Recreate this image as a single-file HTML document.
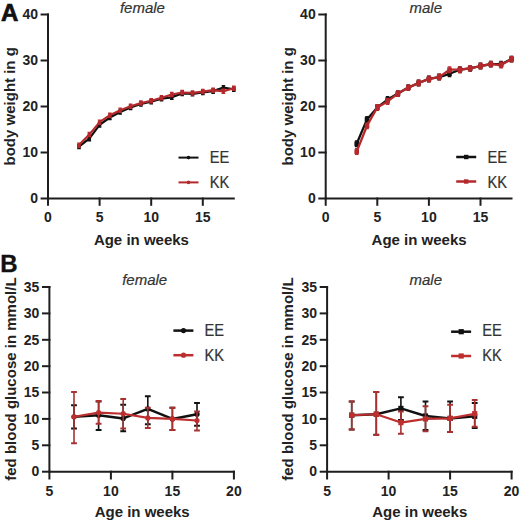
<!DOCTYPE html>
<html><head><meta charset="utf-8"><style>
html,body{margin:0;padding:0;background:#fff;}
body{width:520px;height:522px;overflow:hidden;}
svg{display:block;font-family:"Liberation Sans",sans-serif;}
.tb{font-size:14px;font-weight:bold;fill:#222;}
.lb{font-size:15px;font-weight:bold;fill:#222;}
.ti{font-size:15px;font-style:italic;fill:#333;stroke:#333;stroke-width:0.2px;}
.tr{font-size:15.6px;fill:#333;stroke:#333;stroke-width:0.2px;}
.pl{font-size:24px;font-weight:bold;fill:#111;stroke:#111;stroke-width:0.7px;}
</style></head><body>
<svg width="520" height="522" viewBox="0 0 520 522">
<text x="1" y="21" class="pl">A</text>
<text x="0.2" y="271.9" class="pl" style="stroke-width:0.35px">B</text>
<path d="M48.0 14.5V198.5H233.8" fill="none" stroke="#1e1e1e" stroke-width="2" stroke-linecap="square"/>
<path d="M40.6 198.5H49.0" stroke="#1e1e1e" stroke-width="2"/>
<text x="38.0" y="203.2" text-anchor="end" class="tb">0</text>
<path d="M40.6 152.5H49.0" stroke="#1e1e1e" stroke-width="2"/>
<text x="38.0" y="157.2" text-anchor="end" class="tb">10</text>
<path d="M40.6 106.5H49.0" stroke="#1e1e1e" stroke-width="2"/>
<text x="38.0" y="111.2" text-anchor="end" class="tb">20</text>
<path d="M40.6 60.5H49.0" stroke="#1e1e1e" stroke-width="2"/>
<text x="38.0" y="65.2" text-anchor="end" class="tb">30</text>
<path d="M40.6 14.5H49.0" stroke="#1e1e1e" stroke-width="2"/>
<text x="38.0" y="19.2" text-anchor="end" class="tb">40</text>
<path d="M48.0 197.5V205.8" stroke="#1e1e1e" stroke-width="2"/>
<text x="48.0" y="221.8" text-anchor="middle" class="tb">0</text>
<path d="M99.6 197.5V205.8" stroke="#1e1e1e" stroke-width="2"/>
<text x="99.6" y="221.8" text-anchor="middle" class="tb">5</text>
<path d="M151.2 197.5V205.8" stroke="#1e1e1e" stroke-width="2"/>
<text x="151.2" y="221.8" text-anchor="middle" class="tb">10</text>
<path d="M202.8 197.5V205.8" stroke="#1e1e1e" stroke-width="2"/>
<text x="202.8" y="221.8" text-anchor="middle" class="tb">15</text>
<text x="142.4" y="12.8" text-anchor="middle" class="ti">female</text>
<text x="141.4" y="244.6" text-anchor="middle" class="lb">Age in weeks</text>
<text transform="translate(14.8 106.3) rotate(-90)" text-anchor="middle" class="lb">body weight in g</text>
<polyline points="79.0,146.5 89.3,138.7 99.6,124.9 109.9,117.5 120.2,112.0 130.6,107.4 140.9,104.0 151.2,101.7 161.5,98.7 171.8,97.3 182.2,93.4 192.5,93.9 202.8,92.5 213.1,91.1 223.4,87.6 233.8,89.3" fill="none" stroke="#111" stroke-width="2.2" stroke-linejoin="round"/>
<path d="M79.0 144.4V148.6M77.2 144.4h3.6M77.2 148.6h3.6" stroke="#111" stroke-width="1.4"/>
<circle cx="79.0" cy="146.5" r="1.9" fill="#111"/>
<path d="M89.3 136.6V140.8M87.5 136.6h3.6M87.5 140.8h3.6" stroke="#111" stroke-width="1.4"/>
<circle cx="89.3" cy="138.7" r="1.9" fill="#111"/>
<path d="M99.6 122.8V127.0M97.8 122.8h3.6M97.8 127.0h3.6" stroke="#111" stroke-width="1.4"/>
<circle cx="99.6" cy="124.9" r="1.9" fill="#111"/>
<path d="M109.9 115.5V119.6M108.1 115.5h3.6M108.1 119.6h3.6" stroke="#111" stroke-width="1.4"/>
<circle cx="109.9" cy="117.5" r="1.9" fill="#111"/>
<path d="M120.2 110.0V114.1M118.4 110.0h3.6M118.4 114.1h3.6" stroke="#111" stroke-width="1.4"/>
<circle cx="120.2" cy="112.0" r="1.9" fill="#111"/>
<path d="M130.6 105.4V109.5M128.8 105.4h3.6M128.8 109.5h3.6" stroke="#111" stroke-width="1.4"/>
<circle cx="130.6" cy="107.4" r="1.9" fill="#111"/>
<path d="M140.9 101.9V106.0M139.1 101.9h3.6M139.1 106.0h3.6" stroke="#111" stroke-width="1.4"/>
<circle cx="140.9" cy="104.0" r="1.9" fill="#111"/>
<path d="M151.2 99.6V103.7M149.4 99.6h3.6M149.4 103.7h3.6" stroke="#111" stroke-width="1.4"/>
<circle cx="151.2" cy="101.7" r="1.9" fill="#111"/>
<path d="M161.5 96.6V100.8M159.7 96.6h3.6M159.7 100.8h3.6" stroke="#111" stroke-width="1.4"/>
<circle cx="161.5" cy="98.7" r="1.9" fill="#111"/>
<path d="M171.8 95.2V99.4M170.0 95.2h3.6M170.0 99.4h3.6" stroke="#111" stroke-width="1.4"/>
<circle cx="171.8" cy="97.3" r="1.9" fill="#111"/>
<path d="M182.2 91.3V95.5M180.4 91.3h3.6M180.4 95.5h3.6" stroke="#111" stroke-width="1.4"/>
<circle cx="182.2" cy="93.4" r="1.9" fill="#111"/>
<path d="M192.5 91.8V95.9M190.7 91.8h3.6M190.7 95.9h3.6" stroke="#111" stroke-width="1.4"/>
<circle cx="192.5" cy="93.9" r="1.9" fill="#111"/>
<path d="M202.8 90.4V94.5M201.0 90.4h3.6M201.0 94.5h3.6" stroke="#111" stroke-width="1.4"/>
<circle cx="202.8" cy="92.5" r="1.9" fill="#111"/>
<path d="M213.1 89.0V93.2M211.3 89.0h3.6M211.3 93.2h3.6" stroke="#111" stroke-width="1.4"/>
<circle cx="213.1" cy="91.1" r="1.9" fill="#111"/>
<path d="M223.4 85.6V89.7M221.6 85.6h3.6M221.6 89.7h3.6" stroke="#111" stroke-width="1.4"/>
<circle cx="223.4" cy="87.6" r="1.9" fill="#111"/>
<path d="M233.8 87.2V91.3M232.0 87.2h3.6M232.0 91.3h3.6" stroke="#111" stroke-width="1.4"/>
<circle cx="233.8" cy="89.3" r="1.9" fill="#111"/>
<polyline points="79.0,145.1 89.3,134.6 99.6,122.1 109.9,115.2 120.2,110.2 130.6,106.3 140.9,103.1 151.2,100.8 161.5,97.8 171.8,94.5 182.2,92.5 192.5,92.9 202.8,91.6 213.1,90.2 223.4,91.3 233.8,88.3" fill="none" stroke="#b5292c" stroke-width="2.2" stroke-linejoin="round"/>
<path d="M79.0 143.1V147.2M77.2 143.1h3.6M77.2 147.2h3.6" stroke="#b5292c" stroke-width="1.4"/>
<circle cx="79.0" cy="145.1" r="1.9" fill="#b5292c"/>
<path d="M89.3 132.5V136.6M87.5 132.5h3.6M87.5 136.6h3.6" stroke="#b5292c" stroke-width="1.4"/>
<circle cx="89.3" cy="134.6" r="1.9" fill="#b5292c"/>
<path d="M99.6 120.1V124.2M97.8 120.1h3.6M97.8 124.2h3.6" stroke="#b5292c" stroke-width="1.4"/>
<circle cx="99.6" cy="122.1" r="1.9" fill="#b5292c"/>
<path d="M109.9 113.2V117.3M108.1 113.2h3.6M108.1 117.3h3.6" stroke="#b5292c" stroke-width="1.4"/>
<circle cx="109.9" cy="115.2" r="1.9" fill="#b5292c"/>
<path d="M120.2 108.1V112.2M118.4 108.1h3.6M118.4 112.2h3.6" stroke="#b5292c" stroke-width="1.4"/>
<circle cx="120.2" cy="110.2" r="1.9" fill="#b5292c"/>
<path d="M130.6 104.2V108.3M128.8 104.2h3.6M128.8 108.3h3.6" stroke="#b5292c" stroke-width="1.4"/>
<circle cx="130.6" cy="106.3" r="1.9" fill="#b5292c"/>
<path d="M140.9 101.0V105.1M139.1 101.0h3.6M139.1 105.1h3.6" stroke="#b5292c" stroke-width="1.4"/>
<circle cx="140.9" cy="103.1" r="1.9" fill="#b5292c"/>
<path d="M151.2 98.7V102.8M149.4 98.7h3.6M149.4 102.8h3.6" stroke="#b5292c" stroke-width="1.4"/>
<circle cx="151.2" cy="100.8" r="1.9" fill="#b5292c"/>
<path d="M161.5 95.7V99.8M159.7 95.7h3.6M159.7 99.8h3.6" stroke="#b5292c" stroke-width="1.4"/>
<circle cx="161.5" cy="97.8" r="1.9" fill="#b5292c"/>
<path d="M171.8 92.5V96.6M170.0 92.5h3.6M170.0 96.6h3.6" stroke="#b5292c" stroke-width="1.4"/>
<circle cx="171.8" cy="94.5" r="1.9" fill="#b5292c"/>
<path d="M182.2 90.4V94.5M180.4 90.4h3.6M180.4 94.5h3.6" stroke="#b5292c" stroke-width="1.4"/>
<circle cx="182.2" cy="92.5" r="1.9" fill="#b5292c"/>
<path d="M192.5 90.9V95.0M190.7 90.9h3.6M190.7 95.0h3.6" stroke="#b5292c" stroke-width="1.4"/>
<circle cx="192.5" cy="92.9" r="1.9" fill="#b5292c"/>
<path d="M202.8 89.5V93.6M201.0 89.5h3.6M201.0 93.6h3.6" stroke="#b5292c" stroke-width="1.4"/>
<circle cx="202.8" cy="91.6" r="1.9" fill="#b5292c"/>
<path d="M213.1 88.1V92.2M211.3 88.1h3.6M211.3 92.2h3.6" stroke="#b5292c" stroke-width="1.4"/>
<circle cx="213.1" cy="90.2" r="1.9" fill="#b5292c"/>
<path d="M223.4 89.3V93.4M221.6 89.3h3.6M221.6 93.4h3.6" stroke="#b5292c" stroke-width="1.4"/>
<circle cx="223.4" cy="91.3" r="1.9" fill="#b5292c"/>
<path d="M233.8 86.3V90.4M232.0 86.3h3.6M232.0 90.4h3.6" stroke="#b5292c" stroke-width="1.4"/>
<circle cx="233.8" cy="88.3" r="1.9" fill="#b5292c"/>
<path d="M178.5 157.6H198.5" stroke="#111" stroke-width="2.0"/>
<circle cx="188.5" cy="157.6" r="1.8" fill="#111"/>
<text transform="translate(209.8 163.2) scale(0.94 1)" class="tr">EE</text>
<path d="M178.5 182.4H198.5" stroke="#b5292c" stroke-width="2.0"/>
<circle cx="188.5" cy="182.4" r="1.8" fill="#b5292c"/>
<text transform="translate(209.8 187.9) scale(0.94 1)" class="tr">KK</text>
<path d="M325.7 14.5V198.5H511.5" fill="none" stroke="#1e1e1e" stroke-width="2" stroke-linecap="square"/>
<path d="M318.3 198.5H326.7" stroke="#1e1e1e" stroke-width="2"/>
<text x="315.7" y="203.2" text-anchor="end" class="tb">0</text>
<path d="M318.3 152.5H326.7" stroke="#1e1e1e" stroke-width="2"/>
<text x="315.7" y="157.2" text-anchor="end" class="tb">10</text>
<path d="M318.3 106.5H326.7" stroke="#1e1e1e" stroke-width="2"/>
<text x="315.7" y="111.2" text-anchor="end" class="tb">20</text>
<path d="M318.3 60.5H326.7" stroke="#1e1e1e" stroke-width="2"/>
<text x="315.7" y="65.2" text-anchor="end" class="tb">30</text>
<path d="M318.3 14.5H326.7" stroke="#1e1e1e" stroke-width="2"/>
<text x="315.7" y="19.2" text-anchor="end" class="tb">40</text>
<path d="M325.7 197.5V205.8" stroke="#1e1e1e" stroke-width="2"/>
<text x="325.7" y="221.8" text-anchor="middle" class="tb">0</text>
<path d="M377.3 197.5V205.8" stroke="#1e1e1e" stroke-width="2"/>
<text x="377.3" y="221.8" text-anchor="middle" class="tb">5</text>
<path d="M428.9 197.5V205.8" stroke="#1e1e1e" stroke-width="2"/>
<text x="428.9" y="221.8" text-anchor="middle" class="tb">10</text>
<path d="M480.5 197.5V205.8" stroke="#1e1e1e" stroke-width="2"/>
<text x="480.5" y="221.8" text-anchor="middle" class="tb">15</text>
<text x="425.8" y="12.8" text-anchor="middle" class="ti">male</text>
<text x="419.1" y="244.6" text-anchor="middle" class="lb">Age in weeks</text>
<text transform="translate(292.5 106.3) rotate(-90)" text-anchor="middle" class="lb">body weight in g</text>
<polyline points="356.7,143.8 367.0,119.4 377.3,107.4 387.6,99.6 397.9,93.6 408.3,87.6 418.6,83.0 428.9,78.9 439.2,77.1 449.5,73.8 459.9,69.7 470.2,68.3 480.5,66.0 490.8,64.2 501.1,64.2 511.5,59.1" fill="none" stroke="#111" stroke-width="2.3" stroke-linejoin="round"/>
<path d="M356.7 141.0V146.5M354.9 141.0h3.6M354.9 146.5h3.6" stroke="#111" stroke-width="1.4"/>
<rect x="354.4" y="141.5" width="4.6" height="4.6" fill="#111"/>
<path d="M367.0 116.6V122.1M365.2 116.6h3.6M365.2 122.1h3.6" stroke="#111" stroke-width="1.4"/>
<rect x="364.7" y="117.1" width="4.6" height="4.6" fill="#111"/>
<path d="M377.3 104.7V110.2M375.5 104.7h3.6M375.5 110.2h3.6" stroke="#111" stroke-width="1.4"/>
<rect x="375.0" y="105.1" width="4.6" height="4.6" fill="#111"/>
<path d="M387.6 96.8V102.4M385.8 96.8h3.6M385.8 102.4h3.6" stroke="#111" stroke-width="1.4"/>
<rect x="385.3" y="97.3" width="4.6" height="4.6" fill="#111"/>
<path d="M397.9 90.9V96.4M396.1 90.9h3.6M396.1 96.4h3.6" stroke="#111" stroke-width="1.4"/>
<rect x="395.6" y="91.3" width="4.6" height="4.6" fill="#111"/>
<path d="M408.3 84.9V90.4M406.5 84.9h3.6M406.5 90.4h3.6" stroke="#111" stroke-width="1.4"/>
<rect x="406.0" y="85.3" width="4.6" height="4.6" fill="#111"/>
<path d="M418.6 80.3V85.8M416.8 80.3h3.6M416.8 85.8h3.6" stroke="#111" stroke-width="1.4"/>
<rect x="416.3" y="80.7" width="4.6" height="4.6" fill="#111"/>
<path d="M428.9 76.1V81.7M427.1 76.1h3.6M427.1 81.7h3.6" stroke="#111" stroke-width="1.4"/>
<rect x="426.6" y="76.6" width="4.6" height="4.6" fill="#111"/>
<path d="M439.2 74.3V79.8M437.4 74.3h3.6M437.4 79.8h3.6" stroke="#111" stroke-width="1.4"/>
<rect x="436.9" y="74.8" width="4.6" height="4.6" fill="#111"/>
<path d="M449.5 71.1V76.6M447.7 71.1h3.6M447.7 76.6h3.6" stroke="#111" stroke-width="1.4"/>
<rect x="447.2" y="71.5" width="4.6" height="4.6" fill="#111"/>
<path d="M459.9 66.9V72.5M458.1 66.9h3.6M458.1 72.5h3.6" stroke="#111" stroke-width="1.4"/>
<rect x="457.6" y="67.4" width="4.6" height="4.6" fill="#111"/>
<path d="M470.2 65.6V71.1M468.4 65.6h3.6M468.4 71.1h3.6" stroke="#111" stroke-width="1.4"/>
<rect x="467.9" y="66.0" width="4.6" height="4.6" fill="#111"/>
<path d="M480.5 63.3V68.8M478.7 63.3h3.6M478.7 68.8h3.6" stroke="#111" stroke-width="1.4"/>
<rect x="478.2" y="63.7" width="4.6" height="4.6" fill="#111"/>
<path d="M490.8 61.4V66.9M489.0 61.4h3.6M489.0 66.9h3.6" stroke="#111" stroke-width="1.4"/>
<rect x="488.5" y="61.9" width="4.6" height="4.6" fill="#111"/>
<path d="M501.1 61.4V66.9M499.3 61.4h3.6M499.3 66.9h3.6" stroke="#111" stroke-width="1.4"/>
<rect x="498.8" y="61.9" width="4.6" height="4.6" fill="#111"/>
<path d="M511.5 56.4V61.9M509.7 56.4h3.6M509.7 61.9h3.6" stroke="#111" stroke-width="1.4"/>
<rect x="509.2" y="56.8" width="4.6" height="4.6" fill="#111"/>
<polyline points="356.7,151.6 367.0,125.8 377.3,107.4 387.6,101.4 397.9,93.6 408.3,87.6 418.6,83.0 428.9,78.9 439.2,77.1 449.5,69.7 459.9,69.7 470.2,68.3 480.5,66.0 490.8,64.2 501.1,65.1 511.5,59.1" fill="none" stroke="#b5292c" stroke-width="2.3" stroke-linejoin="round"/>
<path d="M356.7 148.8V154.3M354.9 148.8h3.6M354.9 154.3h3.6" stroke="#b5292c" stroke-width="1.4"/>
<rect x="354.4" y="149.3" width="4.6" height="4.6" fill="#b5292c"/>
<path d="M367.0 123.1V128.6M365.2 123.1h3.6M365.2 128.6h3.6" stroke="#b5292c" stroke-width="1.4"/>
<rect x="364.7" y="123.5" width="4.6" height="4.6" fill="#b5292c"/>
<path d="M377.3 104.7V110.2M375.5 104.7h3.6M375.5 110.2h3.6" stroke="#b5292c" stroke-width="1.4"/>
<rect x="375.0" y="105.1" width="4.6" height="4.6" fill="#b5292c"/>
<path d="M387.6 98.7V104.2M385.8 98.7h3.6M385.8 104.2h3.6" stroke="#b5292c" stroke-width="1.4"/>
<rect x="385.3" y="99.1" width="4.6" height="4.6" fill="#b5292c"/>
<path d="M397.9 90.9V96.4M396.1 90.9h3.6M396.1 96.4h3.6" stroke="#b5292c" stroke-width="1.4"/>
<rect x="395.6" y="91.3" width="4.6" height="4.6" fill="#b5292c"/>
<path d="M408.3 84.9V90.4M406.5 84.9h3.6M406.5 90.4h3.6" stroke="#b5292c" stroke-width="1.4"/>
<rect x="406.0" y="85.3" width="4.6" height="4.6" fill="#b5292c"/>
<path d="M418.6 80.3V85.8M416.8 80.3h3.6M416.8 85.8h3.6" stroke="#b5292c" stroke-width="1.4"/>
<rect x="416.3" y="80.7" width="4.6" height="4.6" fill="#b5292c"/>
<path d="M428.9 76.1V81.7M427.1 76.1h3.6M427.1 81.7h3.6" stroke="#b5292c" stroke-width="1.4"/>
<rect x="426.6" y="76.6" width="4.6" height="4.6" fill="#b5292c"/>
<path d="M439.2 74.3V79.8M437.4 74.3h3.6M437.4 79.8h3.6" stroke="#b5292c" stroke-width="1.4"/>
<rect x="436.9" y="74.8" width="4.6" height="4.6" fill="#b5292c"/>
<path d="M449.5 66.9V72.5M447.7 66.9h3.6M447.7 72.5h3.6" stroke="#b5292c" stroke-width="1.4"/>
<rect x="447.2" y="67.4" width="4.6" height="4.6" fill="#b5292c"/>
<path d="M459.9 66.9V72.5M458.1 66.9h3.6M458.1 72.5h3.6" stroke="#b5292c" stroke-width="1.4"/>
<rect x="457.6" y="67.4" width="4.6" height="4.6" fill="#b5292c"/>
<path d="M470.2 65.6V71.1M468.4 65.6h3.6M468.4 71.1h3.6" stroke="#b5292c" stroke-width="1.4"/>
<rect x="467.9" y="66.0" width="4.6" height="4.6" fill="#b5292c"/>
<path d="M480.5 63.3V68.8M478.7 63.3h3.6M478.7 68.8h3.6" stroke="#b5292c" stroke-width="1.4"/>
<rect x="478.2" y="63.7" width="4.6" height="4.6" fill="#b5292c"/>
<path d="M490.8 61.4V66.9M489.0 61.4h3.6M489.0 66.9h3.6" stroke="#b5292c" stroke-width="1.4"/>
<rect x="488.5" y="61.9" width="4.6" height="4.6" fill="#b5292c"/>
<path d="M501.1 62.3V67.9M499.3 62.3h3.6M499.3 67.9h3.6" stroke="#b5292c" stroke-width="1.4"/>
<rect x="498.8" y="62.8" width="4.6" height="4.6" fill="#b5292c"/>
<path d="M511.5 56.4V61.9M509.7 56.4h3.6M509.7 61.9h3.6" stroke="#b5292c" stroke-width="1.4"/>
<rect x="509.2" y="56.8" width="4.6" height="4.6" fill="#b5292c"/>
<path d="M456.2 157.0H476.2" stroke="#111" stroke-width="2.5"/>
<rect x="464.0" y="154.8" width="4.4" height="4.4" fill="#111"/>
<text transform="translate(487.5 163.2) scale(0.94 1)" class="tr">EE</text>
<path d="M456.2 181.5H476.2" stroke="#b5292c" stroke-width="2.5"/>
<rect x="464.0" y="179.3" width="4.4" height="4.4" fill="#b5292c"/>
<text transform="translate(487.5 187.9) scale(0.94 1)" class="tr">KK</text>
<path d="M49.4 287.0V471.7H233.9" fill="none" stroke="#1e1e1e" stroke-width="2" stroke-linecap="square"/>
<path d="M42.0 471.7H50.4" stroke="#1e1e1e" stroke-width="2"/>
<text x="39.4" y="476.4" text-anchor="end" class="tb">0</text>
<path d="M42.0 445.3H50.4" stroke="#1e1e1e" stroke-width="2"/>
<text x="39.4" y="450.0" text-anchor="end" class="tb">5</text>
<path d="M42.0 418.9H50.4" stroke="#1e1e1e" stroke-width="2"/>
<text x="39.4" y="423.6" text-anchor="end" class="tb">10</text>
<path d="M42.0 392.5H50.4" stroke="#1e1e1e" stroke-width="2"/>
<text x="39.4" y="397.2" text-anchor="end" class="tb">15</text>
<path d="M42.0 366.2H50.4" stroke="#1e1e1e" stroke-width="2"/>
<text x="39.4" y="370.9" text-anchor="end" class="tb">20</text>
<path d="M42.0 339.8H50.4" stroke="#1e1e1e" stroke-width="2"/>
<text x="39.4" y="344.5" text-anchor="end" class="tb">25</text>
<path d="M42.0 313.4H50.4" stroke="#1e1e1e" stroke-width="2"/>
<text x="39.4" y="318.1" text-anchor="end" class="tb">30</text>
<path d="M42.0 287.0H50.4" stroke="#1e1e1e" stroke-width="2"/>
<text x="39.4" y="291.7" text-anchor="end" class="tb">35</text>
<path d="M49.4 470.7V479.5" stroke="#1e1e1e" stroke-width="2"/>
<text x="49.4" y="495.5" text-anchor="middle" class="tb">5</text>
<path d="M110.9 470.7V479.5" stroke="#1e1e1e" stroke-width="2"/>
<text x="110.9" y="495.5" text-anchor="middle" class="tb">10</text>
<path d="M172.4 470.7V479.5" stroke="#1e1e1e" stroke-width="2"/>
<text x="172.4" y="495.5" text-anchor="middle" class="tb">15</text>
<path d="M233.9 470.7V479.5" stroke="#1e1e1e" stroke-width="2"/>
<text x="233.9" y="495.5" text-anchor="middle" class="tb">20</text>
<text x="144.7" y="285.2" text-anchor="middle" class="ti">female</text>
<text x="142.2" y="517.2" text-anchor="middle" class="lb">Age in weeks</text>
<text transform="translate(15.6 379.1) rotate(-90)" text-anchor="middle" class="lb">fed blood glucose in mmol/L</text>
<polyline points="74.0,416.8 98.6,415.2 123.2,418.4 147.8,408.9 172.4,418.9 197.0,414.2" fill="none" stroke="#111" stroke-width="2.5" stroke-linejoin="round"/>
<path d="M74.0 405.2V428.4" stroke="#111" stroke-width="1.6"/><path d="M71.1 405.2h5.8M71.1 428.4h5.8" stroke="#111" stroke-width="2"/>
<circle cx="74.0" cy="416.8" r="2.6" fill="#111"/>
<path d="M98.6 401.5V430.0" stroke="#111" stroke-width="1.6"/><path d="M95.7 401.5h5.8M95.7 430.0h5.8" stroke="#111" stroke-width="2"/>
<circle cx="98.6" cy="415.2" r="2.6" fill="#111"/>
<path d="M123.2 404.7V431.3" stroke="#111" stroke-width="1.6"/><path d="M120.3 404.7h5.8M120.3 431.3h5.8" stroke="#111" stroke-width="2"/>
<circle cx="123.2" cy="418.4" r="2.6" fill="#111"/>
<path d="M147.8 396.2V424.2" stroke="#111" stroke-width="1.6"/><path d="M144.9 396.2h5.8M144.9 424.2h5.8" stroke="#111" stroke-width="2"/>
<circle cx="147.8" cy="408.9" r="2.6" fill="#111"/>
<path d="M172.4 407.8V430.0" stroke="#111" stroke-width="1.6"/><path d="M169.5 407.8h5.8M169.5 430.0h5.8" stroke="#111" stroke-width="2"/>
<circle cx="172.4" cy="418.9" r="2.6" fill="#111"/>
<path d="M197.0 403.1V425.8" stroke="#111" stroke-width="1.6"/><path d="M194.1 403.1h5.8M194.1 425.8h5.8" stroke="#111" stroke-width="2"/>
<circle cx="197.0" cy="414.2" r="2.6" fill="#111"/>
<polyline points="74.0,416.8 98.6,412.6 123.2,413.7 147.8,417.9 172.4,418.9 197.0,420.5" fill="none" stroke="#bd2e2f" stroke-width="2.1" stroke-linejoin="round"/>
<path d="M74.0 392.0V443.2" stroke="#a83232" stroke-width="1.6"/><path d="M71.1 392.0h5.8M71.1 443.2h5.8" stroke="#a83232" stroke-width="2"/>
<circle cx="74.0" cy="416.8" r="2.6" fill="#bd2e2f"/>
<path d="M98.6 401.0V423.7" stroke="#a83232" stroke-width="1.6"/><path d="M95.7 401.0h5.8M95.7 423.7h5.8" stroke="#a83232" stroke-width="2"/>
<circle cx="98.6" cy="412.6" r="2.6" fill="#bd2e2f"/>
<path d="M123.2 398.9V428.4" stroke="#a83232" stroke-width="1.6"/><path d="M120.3 398.9h5.8M120.3 428.4h5.8" stroke="#a83232" stroke-width="2"/>
<circle cx="123.2" cy="413.7" r="2.6" fill="#bd2e2f"/>
<path d="M147.8 407.8V427.9" stroke="#a83232" stroke-width="1.6"/><path d="M144.9 407.8h5.8M144.9 427.9h5.8" stroke="#a83232" stroke-width="2"/>
<circle cx="147.8" cy="417.9" r="2.6" fill="#bd2e2f"/>
<path d="M172.4 407.8V430.0" stroke="#a83232" stroke-width="1.6"/><path d="M169.5 407.8h5.8M169.5 430.0h5.8" stroke="#a83232" stroke-width="2"/>
<circle cx="172.4" cy="418.9" r="2.6" fill="#bd2e2f"/>
<path d="M197.0 411.5V430.5" stroke="#a83232" stroke-width="1.6"/><path d="M194.1 411.5h5.8M194.1 430.5h5.8" stroke="#a83232" stroke-width="2"/>
<circle cx="197.0" cy="420.5" r="2.6" fill="#bd2e2f"/>
<path d="M173.4 330.6H193.4" stroke="#111" stroke-width="2.5"/>
<circle cx="183.5" cy="330.6" r="2.6" fill="#111"/>
<text transform="translate(204.6 335.9) scale(0.94 1)" class="tr">EE</text>
<path d="M173.4 355.2H193.4" stroke="#bd2e2f" stroke-width="2.5"/>
<circle cx="183.5" cy="355.2" r="2.6" fill="#bd2e2f"/>
<text transform="translate(204.6 360.5) scale(0.94 1)" class="tr">KK</text>
<path d="M327.1 287.0V471.7H511.6" fill="none" stroke="#1e1e1e" stroke-width="2" stroke-linecap="square"/>
<path d="M319.7 471.7H328.1" stroke="#1e1e1e" stroke-width="2"/>
<text x="317.1" y="476.4" text-anchor="end" class="tb">0</text>
<path d="M319.7 445.3H328.1" stroke="#1e1e1e" stroke-width="2"/>
<text x="317.1" y="450.0" text-anchor="end" class="tb">5</text>
<path d="M319.7 418.9H328.1" stroke="#1e1e1e" stroke-width="2"/>
<text x="317.1" y="423.6" text-anchor="end" class="tb">10</text>
<path d="M319.7 392.5H328.1" stroke="#1e1e1e" stroke-width="2"/>
<text x="317.1" y="397.2" text-anchor="end" class="tb">15</text>
<path d="M319.7 366.2H328.1" stroke="#1e1e1e" stroke-width="2"/>
<text x="317.1" y="370.9" text-anchor="end" class="tb">20</text>
<path d="M319.7 339.8H328.1" stroke="#1e1e1e" stroke-width="2"/>
<text x="317.1" y="344.5" text-anchor="end" class="tb">25</text>
<path d="M319.7 313.4H328.1" stroke="#1e1e1e" stroke-width="2"/>
<text x="317.1" y="318.1" text-anchor="end" class="tb">30</text>
<path d="M319.7 287.0H328.1" stroke="#1e1e1e" stroke-width="2"/>
<text x="317.1" y="291.7" text-anchor="end" class="tb">35</text>
<path d="M327.1 470.7V479.5" stroke="#1e1e1e" stroke-width="2"/>
<text x="327.1" y="495.5" text-anchor="middle" class="tb">5</text>
<path d="M388.6 470.7V479.5" stroke="#1e1e1e" stroke-width="2"/>
<text x="388.6" y="495.5" text-anchor="middle" class="tb">10</text>
<path d="M450.1 470.7V479.5" stroke="#1e1e1e" stroke-width="2"/>
<text x="450.1" y="495.5" text-anchor="middle" class="tb">15</text>
<path d="M511.6 470.7V479.5" stroke="#1e1e1e" stroke-width="2"/>
<text x="511.6" y="495.5" text-anchor="middle" class="tb">20</text>
<text x="425.8" y="285.2" text-anchor="middle" class="ti">male</text>
<text x="419.8" y="517.2" text-anchor="middle" class="lb">Age in weeks</text>
<text transform="translate(293.3 379.1) rotate(-90)" text-anchor="middle" class="lb">fed blood glucose in mmol/L</text>
<polyline points="351.7,415.2 376.3,414.2 400.9,408.4 425.5,416.0 450.1,418.4 474.7,416.3" fill="none" stroke="#111" stroke-width="2.5" stroke-linejoin="round"/>
<path d="M351.7 401.5V429.5" stroke="#111" stroke-width="1.6"/><path d="M348.8 401.5h5.8M348.8 429.5h5.8" stroke="#111" stroke-width="2"/>
<rect x="349.1" y="412.6" width="5.2" height="5.2" fill="#111"/>
<path d="M376.3 392.0V434.8" stroke="#111" stroke-width="1.6"/><path d="M373.4 392.0h5.8M373.4 434.8h5.8" stroke="#111" stroke-width="2"/>
<rect x="373.7" y="411.6" width="5.2" height="5.2" fill="#111"/>
<path d="M400.9 397.3V420.0" stroke="#111" stroke-width="1.6"/><path d="M398.0 397.3h5.8M398.0 420.0h5.8" stroke="#111" stroke-width="2"/>
<rect x="398.3" y="405.8" width="5.2" height="5.2" fill="#111"/>
<path d="M425.5 401.5V430.0" stroke="#111" stroke-width="1.6"/><path d="M422.6 401.5h5.8M422.6 430.0h5.8" stroke="#111" stroke-width="2"/>
<rect x="422.9" y="413.4" width="5.2" height="5.2" fill="#111"/>
<path d="M450.1 401.5V432.1" stroke="#111" stroke-width="1.6"/><path d="M447.2 401.5h5.8M447.2 432.1h5.8" stroke="#111" stroke-width="2"/>
<rect x="447.5" y="415.8" width="5.2" height="5.2" fill="#111"/>
<path d="M474.7 403.1V427.9" stroke="#111" stroke-width="1.6"/><path d="M471.8 403.1h5.8M471.8 427.9h5.8" stroke="#111" stroke-width="2"/>
<rect x="472.1" y="413.7" width="5.2" height="5.2" fill="#111"/>
<polyline points="351.7,415.2 376.3,414.2 400.9,422.6 425.5,418.9 450.1,418.4 474.7,413.7" fill="none" stroke="#bd2e2f" stroke-width="2.1" stroke-linejoin="round"/>
<path d="M351.7 401.5V429.5" stroke="#a83232" stroke-width="1.6"/><path d="M348.8 401.5h5.8M348.8 429.5h5.8" stroke="#a83232" stroke-width="2"/>
<rect x="349.1" y="412.6" width="5.2" height="5.2" fill="#bd2e2f"/>
<path d="M376.3 392.0V435.0" stroke="#a83232" stroke-width="1.6"/><path d="M373.4 392.0h5.8M373.4 435.0h5.8" stroke="#a83232" stroke-width="2"/>
<rect x="373.7" y="411.6" width="5.2" height="5.2" fill="#bd2e2f"/>
<path d="M400.9 411.5V433.7" stroke="#a83232" stroke-width="1.6"/><path d="M398.0 411.5h5.8M398.0 433.7h5.8" stroke="#a83232" stroke-width="2"/>
<rect x="398.3" y="420.0" width="5.2" height="5.2" fill="#bd2e2f"/>
<path d="M425.5 406.3V431.3" stroke="#a83232" stroke-width="1.6"/><path d="M422.6 406.3h5.8M422.6 431.3h5.8" stroke="#a83232" stroke-width="2"/>
<rect x="422.9" y="416.3" width="5.2" height="5.2" fill="#bd2e2f"/>
<path d="M450.1 404.7V432.1" stroke="#a83232" stroke-width="1.6"/><path d="M447.2 404.7h5.8M447.2 432.1h5.8" stroke="#a83232" stroke-width="2"/>
<rect x="447.5" y="415.8" width="5.2" height="5.2" fill="#bd2e2f"/>
<path d="M474.7 399.9V426.8" stroke="#a83232" stroke-width="1.6"/><path d="M471.8 399.9h5.8M471.8 426.8h5.8" stroke="#a83232" stroke-width="2"/>
<rect x="472.1" y="411.1" width="5.2" height="5.2" fill="#bd2e2f"/>
<path d="M451.1 331.7H471.1" stroke="#111" stroke-width="2.5"/>
<rect x="458.6" y="329.1" width="5.2" height="5.2" fill="#111"/>
<text transform="translate(482.3 335.9) scale(0.94 1)" class="tr">EE</text>
<path d="M451.1 356.0H471.1" stroke="#bd2e2f" stroke-width="2.5"/>
<rect x="458.6" y="353.4" width="5.2" height="5.2" fill="#bd2e2f"/>
<text transform="translate(482.3 360.5) scale(0.94 1)" class="tr">KK</text>
</svg></body></html>
